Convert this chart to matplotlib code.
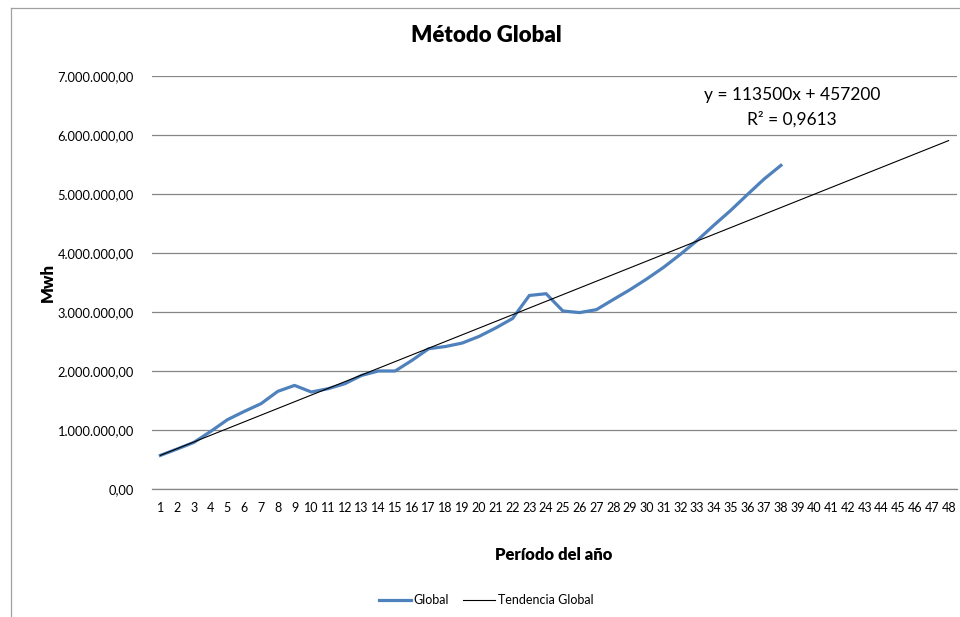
import matplotlib
matplotlib.use("Agg")
import matplotlib.pyplot as plt
from matplotlib.lines import Line2D
from matplotlib.ticker import FuncFormatter

plt.rcParams['font.family'] = ['Lato', 'DejaVu Sans']

# ---- data ----
periods = list(range(1, 49))
global_periods = list(range(1, 39))
global_values = [
    570000, 678000, 790000, 976000, 1175000, 1315000, 1446000, 1655000, 1756000, 1644000,
    1700000, 1785000, 1926000, 2000000, 2000000, 2180000, 2378000, 2415000, 2474000, 2586000,
    2730000, 2890000, 3280000, 3310000, 3017000, 2990000, 3040000, 3210000, 3378000, 3560000,
    3756000, 3976000, 4210000, 4470000, 4720000, 4990000, 5254000, 5485000,
]
trend_slope = 113500
trend_intercept = 457200
r2_text = "0,9613"
y_ticks = [0, 1000000, 2000000, 3000000, 4000000, 5000000, 6000000, 7000000]

trend_values = [trend_slope * p + trend_intercept for p in periods]

# ---- figure ----
W, H = 960, 617
fig = plt.figure(figsize=(W / 100, H / 100), dpi=100)
ax = fig.add_axes([152 / W, 1 - 489 / H, (957 - 152) / W, (489 - 76) / H])

grid_c = '#868686'
blue = '#4F81BD'

ax.plot(global_periods, global_values, color=blue, lw=2.3, label='Global',
        solid_joinstyle='round', zorder=3)
ax.plot(periods, trend_values, color='black', lw=0.8, label='Tendencia Global', zorder=4)

ax.set_xlim(0.5, 48.5)
ax.set_ylim(0, 7000000)
ax.set_xticks(periods)
ax.set_xticklabels([str(p) for p in periods])
ax.set_yticks(y_ticks)


def fmt(v, pos):
    s = f"{v:,.2f}"
    return s.replace(',', 'X').replace('.', ',').replace('X', '.')


ax.yaxis.set_major_formatter(FuncFormatter(fmt))
ax.grid(axis='y', color=grid_c, lw=0.9)
ax.set_axisbelow(True)
for s in ['top', 'right', 'left']:
    ax.spines[s].set_visible(False)
ax.spines['bottom'].set_color(grid_c)
ax.spines['bottom'].set_linewidth(0.9)
ax.tick_params(axis='y', length=0, labelsize=9.3, colors='#000000', pad=13)
ax.tick_params(axis='x', length=0, labelsize=9.0, colors='#000000', pad=9)

fig.text(486 / W, 1 - 36 / H, 'Método Global', ha='center', va='center',
         fontsize=16, fontweight='heavy')
fig.text(48 / W, 1 - 283 / H, 'Mwh', ha='center', va='center', rotation=90,
         fontsize=12, fontweight='heavy')
fig.text(554 / W, 1 - 555 / H, 'Período del año', ha='center', va='center',
         fontsize=12, fontweight='heavy')

fig.text(792 / W, 1 - 95 / H, f'y = {trend_slope}x + {trend_intercept}', ha='center',
         va='center', fontsize=12.5)
fig.text(792 / W, 1 - 119 / H, f'R² = {r2_text}', ha='center', va='center', fontsize=12.5)

leg = fig.legend(handles=[Line2D([], [], color=blue, lw=2.3),
                          Line2D([], [], color='black', lw=0.8)],
                 labels=['Global', 'Tendencia Global'],
                 loc='center', bbox_to_anchor=(486 / W, 1 - 600 / H), ncol=2,
                 frameon=False, fontsize=9, handlelength=2.6, handletextpad=0.2,
                 columnspacing=1.1)

# chart outer frame (left and top visible)
fig.add_artist(Line2D([10.5 / W, 10.5 / W], [0, 1 - 8 / H], transform=fig.transFigure,
                      color='#A0A0A0', lw=0.9))
fig.add_artist(Line2D([10.5 / W, 1], [1 - 8 / H, 1 - 8 / H], transform=fig.transFigure,
                      color='#A0A0A0', lw=0.9))

fig.savefig('out.png', dpi=100)
